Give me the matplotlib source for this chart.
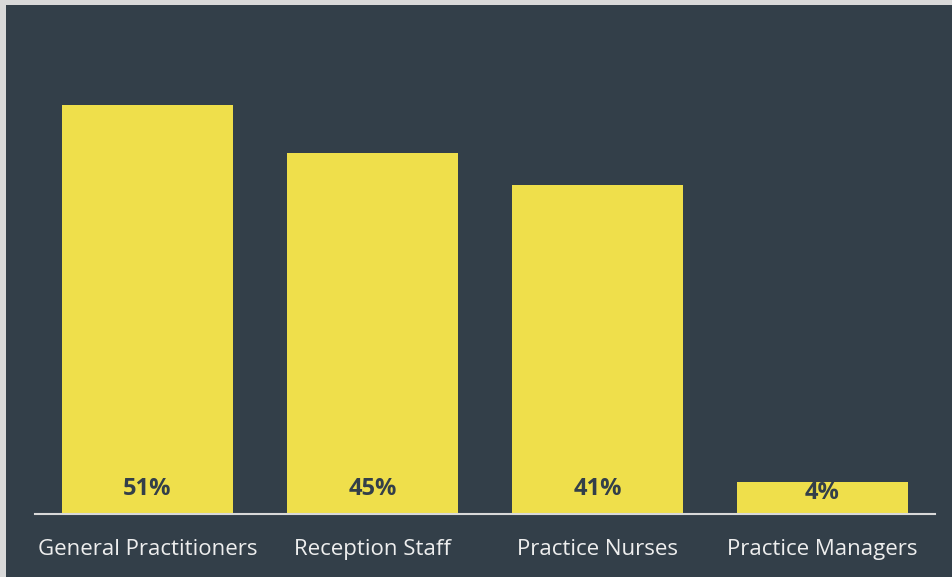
import matplotlib
matplotlib.use("Agg")
from matplotlib import pyplot as plt
from matplotlib.patches import Rectangle

categories = ["General Practitioners", "Reception Staff", "Practice Nurses", "Practice Managers"]
values = [51, 45, 41, 4]
value_labels = ["51%", "45%", "41%", "4%"]

bg = "#333f49"
bar_color = "#efdf4b"
W, H = 953, 577

plt.rcParams['font.family'] = ['Open Sans', 'DejaVu Sans']

fig = plt.figure(figsize=(W / 100, H / 100), dpi=100)
fig.patch.set_facecolor("#d9d9d9")
# dark panel (light border on top and left)
fig.patches.append(Rectangle((6 / W, 0), 1, 1 - 5 / H, transform=fig.transFigure,
                             facecolor=bg, edgecolor="none", zorder=-1))

# axes in pixel coords: x 35..935, baseline at y=514
ax = fig.add_axes([35 / W, (H - 514) / H, 900 / W, 481 / H])
ax.set_facecolor("none")
x = range(len(categories))
bars = ax.bar(x, values, width=0.76, color=bar_color)
ax.set_xlim(-0.5, 3.5)
ax.set_ylim(0, 60)

px_per_unit = 481 / 60
for i, lab in enumerate(value_labels):
    off = min(25, values[i] * px_per_unit / 2 + 5)
    ax.annotate(lab, (i, 0), xytext=(0, off), textcoords="offset pixels",
                ha="center", va="center", fontsize=17, fontweight="bold", color=bg)

for s in ["top", "right", "left"]:
    ax.spines[s].set_visible(False)
ax.spines["bottom"].set_color("#d9d9d9")
ax.spines["bottom"].set_linewidth(1.5)
ax.set_yticks([])
ax.set_xticks(list(x))
ax.set_xticklabels(categories, fontsize=16, color="#eeeeee")
ax.tick_params(axis="x", length=0, pad=18)

fig.savefig("out.png", dpi=100, facecolor=fig.get_facecolor())
